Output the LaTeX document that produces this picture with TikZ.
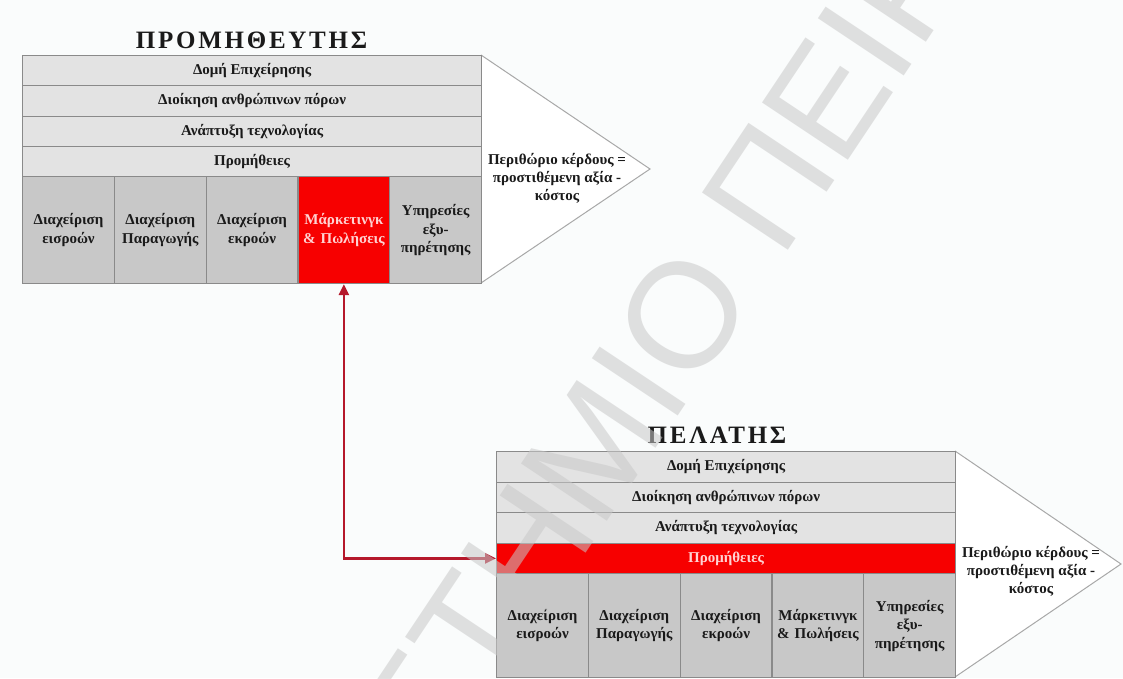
\documentclass[tikz,border=0pt]{standalone}
\usepackage{fontspec}
\setmainfont{Liberation Serif}
\newfontfamily\wmfont{Liberation Sans}
\usetikzlibrary{arrows.meta}
\definecolor{bgc}{HTML}{FAFCFC}
\definecolor{rowgrey}{HTML}{E3E3E3}
\definecolor{cellgrey}{HTML}{C8C8C8}
\definecolor{bordergrey}{HTML}{8A8A8A}
\definecolor{redc}{HTML}{F70000}
\definecolor{redtext}{HTML}{FFD2D2}
\definecolor{arrowc}{HTML}{B5182B}
\definecolor{trigrey}{HTML}{A8A8A8}
\definecolor{txt}{HTML}{1A1A1A}
\definecolor{wmgrey}{HTML}{C8C8C8}
\begin{document}
\begin{tikzpicture}[x=1pt,y=-1pt,
  titlestyle/.style={anchor=base, inner sep=0pt, text=txt,
    font=\bfseries\fontsize{25}{25}\selectfont\addfontfeature{LetterSpace=11}},
  rowbox/.style={draw=bordergrey, fill=rowgrey, line width=1.2pt,
    minimum width=459pt, minimum height=#1, anchor=north west, inner sep=0pt,
    text=txt, font=\bfseries\fontsize{15}{17}\selectfont},
  cellbox/.style={draw=bordergrey, fill=cellgrey, line width=1.2pt,
    minimum width=91.8pt, minimum height=#1, anchor=north west, inner sep=0pt,
    text width=90pt, align=center, text=txt,
    font=\bfseries\fontsize{15}{18.5}\selectfont},
  tri/.style={draw=trigrey, fill=white, line width=1pt},
  margintext/.style={align=center, text=txt, inner sep=0pt,
    font=\bfseries\fontsize{15}{18}\selectfont},
  link/.style={draw=arrowc, line width=2.5pt,
    {Triangle[length=11pt,width=10pt]}-{Triangle[length=11pt,width=10pt]}}
]
\useasboundingbox (0,0) rectangle (1123,678);
\clip (0,0) rectangle (1123,678);
\fill[bgc] (0,0) rectangle (1123,678);

% ---------- supplier ----------
\node[titlestyle] (t1) at (251.5,48) {ΠΡΟΜΗΘΕΥΤΗΣ};
\coordinate (a1) at (481,55);
\coordinate (tip1) at (650,169);
\coordinate (b1) at (481,283);
\filldraw[tri] (a1) -- (tip1) -- (b1);
\node[margintext] (m1) at (557,178) {Περιθώριο κέρδους =\\ προστιθέμενη αξία -\\ κόστος};

\node[rowbox=30.25pt] (s1) at (22,55) {Δομή Επιχείρησης};
\node[rowbox=30.25pt] (s2) at (22,85.25) {Διοίκηση ανθρώπινων πόρων};
\node[rowbox=30.25pt] (s3) at (22,115.5) {Ανάπτυξη τεχνολογίας};
\node[rowbox=30.25pt] (s4) at (22,145.75) {Προμήθειες};
\node[cellbox=107pt] (sc1) at (22,176) {Διαχείριση\\ εισροών};
\node[cellbox=107pt] (sc2) at (113.8,176) {Διαχείριση\\ Παραγωγής};
\node[cellbox=107pt] (sc3) at (205.6,176) {Διαχείριση\\ εκροών};
\node[cellbox=107pt, fill=redc, text=redtext] (sc4) at (297.4,176) {Μάρκετινγκ\\ \& Πωλήσεις};
\node[cellbox=107pt] (sc5) at (389.2,176) {Υπηρεσίες\\ εξυ-\\ πηρέτησης};

% ---------- customer ----------
\node[titlestyle] (t2) at (717,443) {ΠΕΛΑΤΗΣ};
\coordinate (a2) at (955,451);
\coordinate (tip2) at (1121,564);
\coordinate (b2) at (955,677);
\filldraw[tri] (a2) -- (tip2) -- (b2);
\node[margintext] (m2) at (1031,571) {Περιθώριο κέρδους =\\ προστιθέμενη αξία -\\ κόστος};

\node[rowbox=30.5pt] (c1) at (496,451) {Δομή Επιχείρησης};
\node[rowbox=30.5pt] (c2) at (496,481.5) {Διοίκηση ανθρώπινων πόρων};
\node[rowbox=30.5pt] (c3) at (496,512) {Ανάπτυξη τεχνολογίας};
\node[rowbox=30.5pt, fill=redc, text=redtext] (c4) at (496,542.5) {Προμήθειες};
\node[cellbox=104pt] (cc1) at (496,573) {Διαχείριση\\ εισροών};
\node[cellbox=104pt] (cc2) at (587.8,573) {Διαχείριση\\ Παραγωγής};
\node[cellbox=104pt] (cc3) at (679.6,573) {Διαχείριση\\ εκροών};
\node[cellbox=104pt] (cc4) at (771.4,573) {Μάρκετινγκ\\ \& Πωλήσεις};
\node[cellbox=104pt] (cc5) at (863.2,573) {Υπηρεσίες\\ εξυ-\\ πηρέτησης};

% ---------- link ----------
\draw[link] (sc4.south) |- (c4.west);

% ---------- watermark ----------
\node[rotate=56.3, anchor=base west, inner sep=0pt, text=wmgrey, text opacity=0.55,
  font=\wmfont\fontsize{150}{150}\selectfont] (wm) at (781,261)
  {\llap{ΠΑΝΕΠΙΣΤΗΜΙΟ\ }ΠΕΙΡΑΙΩΣ};
\end{tikzpicture}
\end{document}
